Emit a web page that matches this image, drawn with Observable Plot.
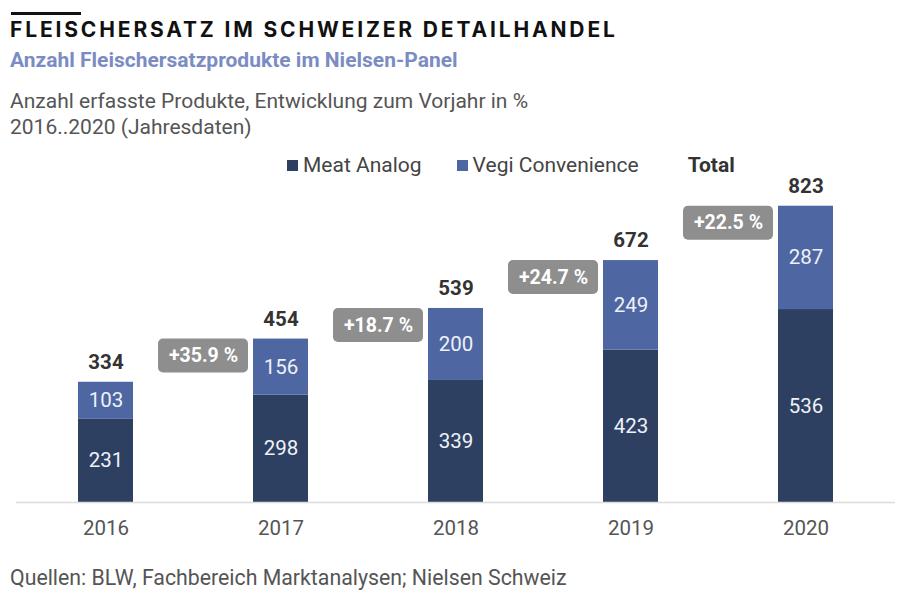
<!DOCTYPE html>
<html>
<head>
<meta charset="utf-8">
<script src="https://cdn.jsdelivr.net/npm/d3@7"></script>
<script src="https://cdn.jsdelivr.net/npm/@observablehq/plot@0.6"></script>
<style>
  html, body { margin: 0; padding: 0; background: #fff; }
  body { width: 900px; height: 595px; position: relative; overflow: hidden; font-family: Roboto, "Noto Sans", sans-serif; }
  #bar { position: absolute; left: 11px; top: 12px; width: 70px; height: 3px; background: #111; }
  #title { position: absolute; left: 10px; top: 18px; font-family: Inter, Roboto, sans-serif; font-weight: 700; font-size: 21px; letter-spacing: 2.85px; color: #111; line-height: 24px; white-space: nowrap; }
  #subtitle { position: absolute; left: 10px; top: 48px; font-weight: 700; font-size: 21px; color: #7b8cc3; line-height: 24px; white-space: nowrap; }
  #desc { position: absolute; left: 10px; top: 88px; font-size: 21px; color: #555; line-height: 26px; white-space: nowrap; }
  #legend { position: absolute; left: 287px; top: 152px; font-size: 21px; color: #444; line-height: 26px; display: flex; align-items: center; white-space: nowrap; }
  #legend .sw { display: inline-block; width: 11px; height: 11px; margin-right: 5px; }
  #legend .item { display: flex; align-items: center; margin-right: 35px; }
  #legend .total { font-weight: 700; color: #333; margin-left: 14px; }
  #chart { position: absolute; left: 0; top: 175px; }
  #caption { position: absolute; left: 10px; top: 565px; font-size: 21.3px; color: #555; line-height: 26px; white-space: nowrap; }
</style>
</head>
<body>
<div id="bar"></div>
<div id="title">FLEISCHERSATZ IM SCHWEIZER DETAILHANDEL</div>
<div id="subtitle">Anzahl Fleischersatzprodukte im Nielsen-Panel</div>
<div id="desc">Anzahl erfasste Produkte, Entwicklung zum Vorjahr in %<br>2016..2020 (Jahresdaten)</div>
<div id="legend"></div>
<div id="chart"></div>
<div id="caption">Quellen: BLW, Fachbereich Marktanalysen; Nielsen Schweiz</div>
<script>
const years = ["2016", "2017", "2018", "2019", "2020"];
const seriesNames = ["Meat Analog", "Vegi Convenience"];
const seriesColors = ["#2e4062", "#4e67a3"];
const meatAnalog = [231, 298, 339, 423, 536];
const vegiConvenience = [103, 156, 200, 249, 287];
const totals = [334, 454, 539, 672, 823];
const growth = [null, "+35.9 %", "+18.7 %", "+24.7 %", "+22.5 %"];

const stacked = [];
years.forEach((y, i) => {
  stacked.push({year: y, series: seriesNames[0], value: meatAnalog[i]});
  stacked.push({year: y, series: seriesNames[1], value: vegiConvenience[i]});
});
const totalRows = years.map((y, i) => ({year: y, total: totals[i], growth: growth[i]}));
const badgeRows = totalRows.filter(d => d.growth);

// legend
const legend = document.getElementById("legend");
seriesNames.forEach((n, i) => {
  const it = document.createElement("span");
  it.className = "item";
  it.innerHTML = `<span class="sw" style="background:${seriesColors[i]}"></span>${n}`;
  legend.appendChild(it);
});
const tot = document.createElement("span");
tot.className = "total";
tot.textContent = "Total";
legend.appendChild(tot);

const chart = Plot.plot({
  width: 900,
  height: 375,
  marginLeft: 16,
  marginRight: 5,
  marginTop: 21,
  marginBottom: 48,
  style: {fontFamily: "Roboto, sans-serif", background: "transparent"},
  x: {domain: years, paddingInner: 0.687, paddingOuter: 0.3435, label: null, tickSize: 0, tickPadding: 18},
  y: {domain: [0, 850], axis: null},
  color: {domain: seriesNames, range: seriesColors},
  marks: [
    Plot.axisX({tickSize: 0, tickPadding: 18, fontSize: 20.5, color: "#555", label: null}),
    Plot.barY(stacked, {x: "year", y: "value", fill: "series"}),
    Plot.ruleY([0], {stroke: "#dcdcdc", strokeWidth: 1.5}),
    Plot.text(stacked, Plot.stackY({x: "year", y: "value", z: "series", text: d => String(d.value), fill: "#eef1f7", fontSize: 20.5})),
    Plot.text(totalRows, {x: "year", y: "total", text: d => String(d.total), dy: -20, fill: "#333", fontSize: 20.5, fontWeight: 700}),
    Plot.barY(badgeRows, {x: "year", y1: "total", y2: "total", fill: "#8e8e8e", rx: 5, insetBottom: -34, insetLeft: -17.5, insetRight: -17.5, dx: -77.5}),
    Plot.text(badgeRows, {x: "year", y: "total", text: "growth", dx: -77.5, dy: 17, fill: "#fff", fontSize: 19.5, fontWeight: 700})
  ]
});
document.getElementById("chart").appendChild(chart);
</script>
</body>
</html>
